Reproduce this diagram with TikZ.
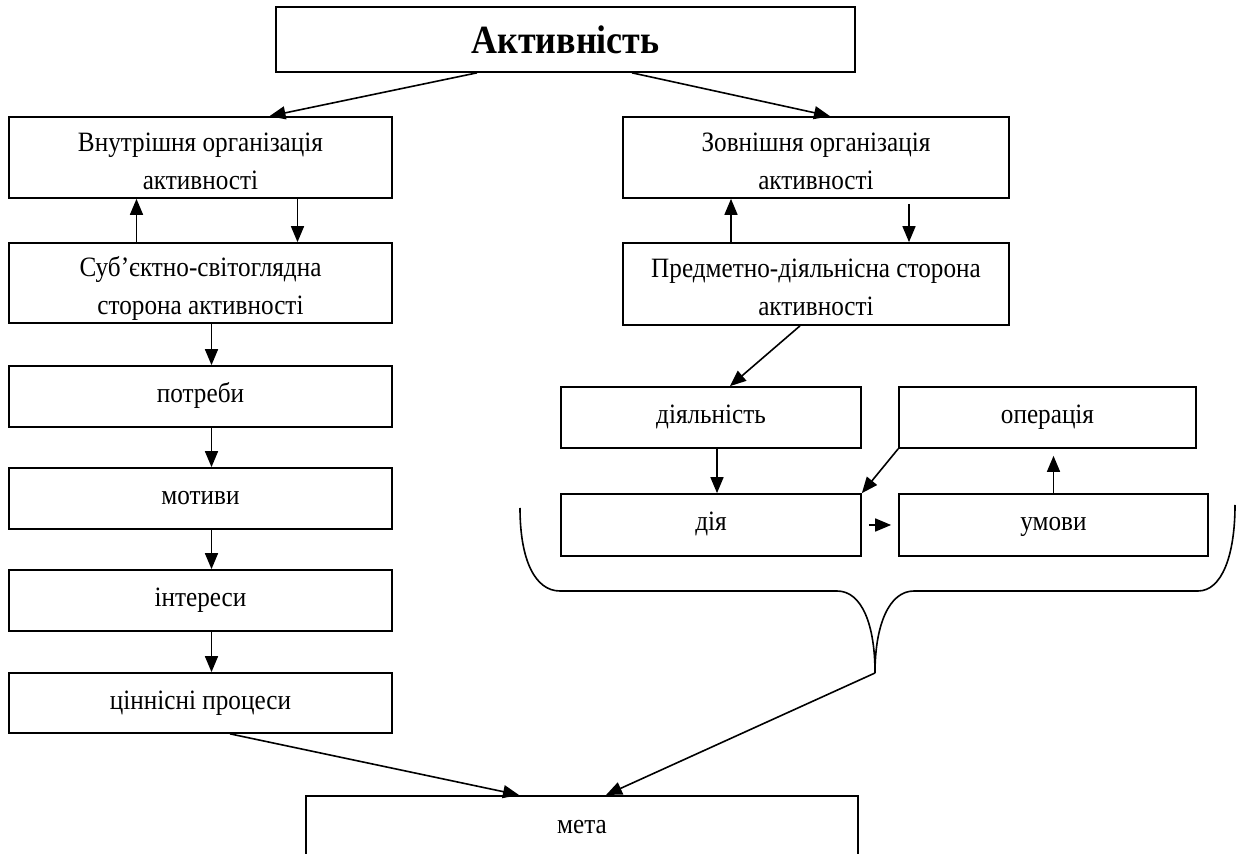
\documentclass[tikz,border=0pt]{standalone}
\usepackage{fontspec}
\setmainfont{Liberation Serif}[FakeStretch=0.9]
\usetikzlibrary{arrows.meta}
\tikzset{
  block/.style={draw,line width=0.85pt,align=center,inner sep=0pt,
    font=\fontsize{14pt}{19pt}\selectfont,text height=9.8pt,text depth=3.8pt},
  twoline/.style={block,text height=34pt,text depth=2pt},
  arr/.style={line width=0.8pt,-{Triangle[length=8pt,width=6.5pt]}}
}
\begin{document}
\begin{tikzpicture}[x=0.5pt,y=-0.5pt]
  \useasboundingbox (0,0) rectangle (1236,854);
  % top
  \node[block,minimum width=289.5pt,minimum height=32.5pt,text height=14pt,text depth=0pt,
    font=\fontsize{20pt}{22pt}\selectfont\bfseries] (top) at (565.5,39.5) {Активність};
  % left column
  \node[twoline,minimum width=191.5pt,minimum height=40.5pt] (inner) at (200.5,157.5) {Внутрішня організація\\активності};
  \node[twoline,minimum width=191.5pt,minimum height=40pt] (subj) at (200.5,283) {Суб’єктно-світоглядна\\сторона активності};
  \node[block,minimum width=191.5pt,minimum height=30.5pt] (potr) at (200.5,396.5) {потреби};
  \node[block,minimum width=191.5pt,minimum height=30.5pt] (motyv) at (200.5,498.5) {мотиви};
  \node[block,minimum width=191.5pt,minimum height=30.5pt] (inter) at (200.5,600.5) {інтереси};
  \node[block,minimum width=191.5pt,minimum height=30pt] (tsinn) at (200.5,703) {ціннісні процеси};
  % right column
  \node[twoline,minimum width=193pt,minimum height=40.5pt] (outer) at (816,157.5) {Зовнішня організація\\активності};
  \node[twoline,minimum width=193pt,minimum height=41pt] (predm) at (816,284) {Предметно-діяльнісна сторона\\активності};
  \node[block,minimum width=150pt,minimum height=30.5pt] (diyaln) at (711,417.5) {діяльність};
  \node[block,minimum width=148.5pt,minimum height=30.5pt] (oper) at (1047.5,417.5) {операція};
  \node[block,minimum width=150pt,minimum height=31pt] (diya) at (711,525) {дія};
  \node[block,minimum width=154.5pt,minimum height=31pt] (umovy) at (1053.5,525) {умови};
  % bottom
  \node[twoline,minimum width=276pt,minimum height=44pt,anchor=north] (meta) at (582,795) {мета\\~};
  % brace
  \coordinate (tip) at (875,673);
  \draw[line width=0.8pt] (520,508) .. controls (520,560) and (535,591) .. (560,591) -- (837,591)
    .. controls (862,591) and (875,625) .. (tip) .. controls (875,625) and (889,591) .. (914,591)
    -- (1198,591) .. controls (1222,591) and (1235,555) .. (1235,505);
  % arrows
  \draw[arr] ([xshift=-44.25pt]top.south) -- ([xshift=34.5pt]inner.north);
  \draw[arr] ([xshift=33.25pt]top.south) -- ([xshift=7pt]outer.north);
  \draw[arr] ([xshift=-32pt]subj.north) -- ([xshift=-32pt]inner.south);
  \draw[arr] ([xshift=48.5pt]inner.south) -- ([xshift=48.5pt]subj.north);
  \draw[arr] ([xshift=-42.5pt]predm.north) -- ([xshift=-42.5pt]outer.south);
  \draw[arr,shorten <=2.5pt] ([xshift=46.5pt]outer.south) -- ([xshift=46.5pt]predm.north);
  \draw[arr] ([xshift=5.5pt]subj.south) -- ([xshift=5.5pt]potr.north);
  \draw[arr] ([xshift=5.5pt]potr.south) -- ([xshift=5.5pt]motyv.north);
  \draw[arr] ([xshift=5.5pt]motyv.south) -- ([xshift=5.5pt]inter.north);
  \draw[arr] ([xshift=5.5pt]inter.south) -- ([xshift=5.5pt]tsinn.north);
  \draw[arr] ([xshift=-8pt]predm.south) -- ([xshift=9.5pt]diyaln.north);
  \draw[arr] ([xshift=3pt]diyaln.south) -- ([xshift=3pt]diya.north);
  \draw[arr] (oper.south west) -- (diya.north east);
  \draw[arr,shorten <=3.5pt,shorten >=3.5pt] (diya.east) -- (umovy.west);
  \draw[arr,shorten >=3.5pt] (umovy.north) -- (umovy.north |- oper.south);
  \draw[arr] ([xshift=14.75pt]tsinn.south) -- ([xshift=-31.5pt]meta.north);
  \draw[arr] (tip) -- ([xshift=12pt]meta.north);
\end{tikzpicture}
\end{document}
